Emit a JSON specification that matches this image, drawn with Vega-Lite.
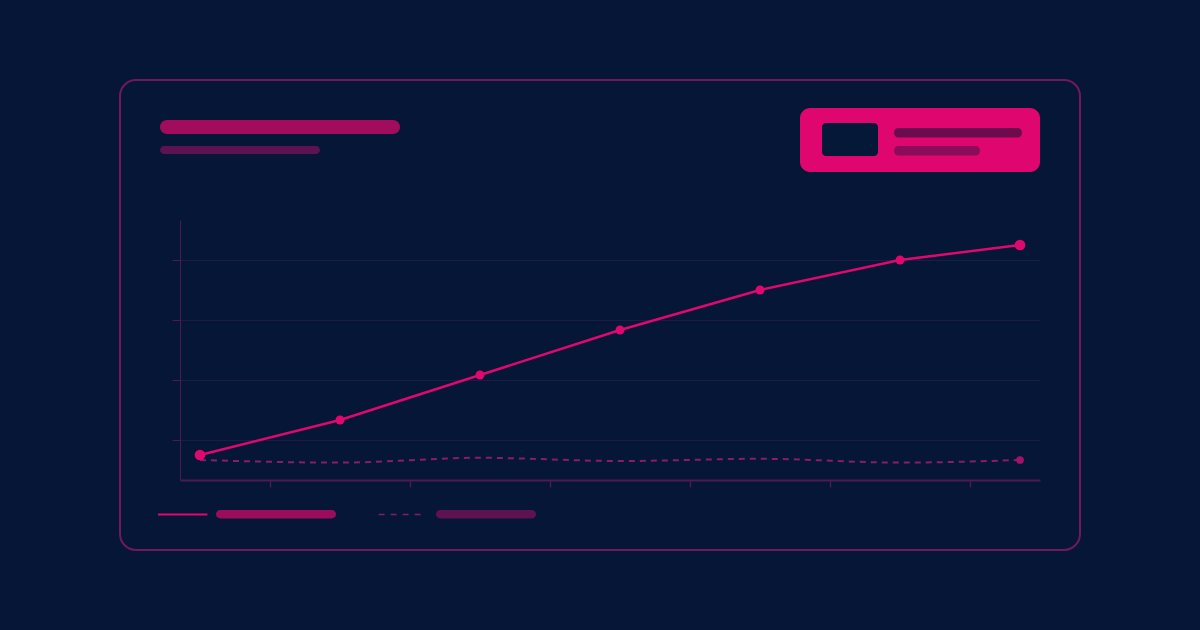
{
  "$schema": "https://vega.github.io/schema/vega-lite/v6.json",
  "autosize": {"type": "none"},
  "width": 860,
  "height": 260,
  "padding": {"left": 180, "top": 220, "right": 160, "bottom": 150},
  "background": "#051637",
  "config": {
    "view": {"stroke": null},
    "axis": {"labels": false, "title": null}
  },
  "datasets": {
    "series": [
      {"step": 1, "actual": 1.25, "baseline": 1.0},
      {"step": 8, "actual": 3.0, "baseline": 0.87},
      {"step": 15, "actual": 5.25, "baseline": 1.11},
      {"step": 22, "actual": 7.5, "baseline": 0.95},
      {"step": 29, "actual": 9.5, "baseline": 1.06},
      {"step": 36, "actual": 11.0, "baseline": 0.87},
      {"step": 42, "actual": 11.75, "baseline": 1.0}
    ],
    "shapes": [
      {"part": "card", "x0": -3, "x1": 45, "y0": 20, "y1": -3.5},
      {"part": "title", "x0": -1, "x1": 11, "y0": 18, "y1": 17.3},
      {"part": "subtitle", "x0": -1, "x1": 7, "y0": 16.7, "y1": 16.3},
      {"part": "badge", "x0": 31, "x1": 43, "y0": 18.6, "y1": 15.4},
      {"part": "badgeInner", "x0": 32.1, "x1": 34.9, "y0": 17.85, "y1": 16.2},
      {"part": "badgeBar1", "x0": 35.7, "x1": 42.1, "y0": 17.6, "y1": 17.12},
      {"part": "badgeBar2", "x0": 35.7, "x1": 40, "y0": 16.7, "y1": 16.23},
      {"part": "legendBar1", "x0": 1.8, "x1": 7.8, "y0": -1.5, "y1": -1.92},
      {"part": "legendBar2", "x0": 12.8, "x1": 17.8, "y0": -1.5, "y1": -1.92},
      {"part": "legendSolid", "x0": -1.1, "x1": 1.37, "y0": -1.72, "y1": -1.72},
      {"part": "legendDashed", "x0": 9.93, "x1": 12.17, "y0": -1.72, "y1": -1.72}
    ]
  },
  "layer": [
    {
      "data": {"name": "shapes"},
      "transform": [{"filter": "datum.part == 'card'"}],
      "mark": {"type": "rect", "filled": false, "color": "#6e1a5c", "strokeWidth": 2, "cornerRadius": 16},
      "encoding": {
        "x": {
          "field": "x0",
          "type": "quantitative",
          "scale": {"domain": [0, 43], "nice": false, "zero": false},
          "axis": {
            "title": null,
            "values": [4.5, 11.5, 18.5, 25.5, 32.5, 39.5],
            "grid": false,
            "domainColor": "#4e1a52",
            "domainWidth": 2,
            "tickColor": "#4e1a52",
            "tickWidth": 1.5,
            "tickSize": 7
          }
        },
        "x2": {"field": "x1"},
        "y": {
          "field": "y0",
          "type": "quantitative",
          "scale": {"domain": [0, 13], "nice": false, "zero": false},
          "axis": {
            "title": null,
            "values": [2, 5, 8, 11],
            "grid": true,
            "gridColor": "#1f1a47",
            "gridWidth": 1,
            "domainColor": "#4e1a52",
            "domainWidth": 1,
            "tickColor": "#4e1a52",
            "tickWidth": 1,
            "tickSize": 8
          }
        },
        "y2": {"field": "y1"}
      }
    },
    {
      "data": {"name": "shapes"},
      "transform": [{"filter": "datum.part == 'title'"}],
      "mark": {"type": "rect", "color": "#a10c5d", "cornerRadius": 7},
      "encoding": {
        "x": {"field": "x0", "type": "quantitative"},
        "x2": {"field": "x1"},
        "y": {"field": "y0", "type": "quantitative"},
        "y2": {"field": "y1"}
      }
    },
    {
      "data": {"name": "shapes"},
      "transform": [{"filter": "datum.part == 'subtitle'"}],
      "mark": {"type": "rect", "color": "#5c1350", "cornerRadius": 4},
      "encoding": {
        "x": {"field": "x0", "type": "quantitative"},
        "x2": {"field": "x1"},
        "y": {"field": "y0", "type": "quantitative"},
        "y2": {"field": "y1"}
      }
    },
    {
      "data": {"name": "shapes"},
      "transform": [{"filter": "datum.part == 'badge'"}],
      "mark": {"type": "rect", "color": "#e0066f", "cornerRadius": 10},
      "encoding": {
        "x": {"field": "x0", "type": "quantitative"},
        "x2": {"field": "x1"},
        "y": {"field": "y0", "type": "quantitative"},
        "y2": {"field": "y1"}
      }
    },
    {
      "data": {"name": "shapes"},
      "transform": [{"filter": "datum.part == 'badgeInner'"}],
      "mark": {"type": "rect", "color": "#061838", "cornerRadius": 4},
      "encoding": {
        "x": {"field": "x0", "type": "quantitative"},
        "x2": {"field": "x1"},
        "y": {"field": "y0", "type": "quantitative"},
        "y2": {"field": "y1"}
      }
    },
    {
      "data": {"name": "shapes"},
      "transform": [{"filter": "indexof(['badgeBar1', 'badgeBar2', 'legendBar1', 'legendBar2'], datum.part) >= 0"}],
      "mark": {"type": "rect", "cornerRadius": 4.5},
      "encoding": {
        "x": {"field": "x0", "type": "quantitative"},
        "x2": {"field": "x1"},
        "y": {"field": "y0", "type": "quantitative"},
        "y2": {"field": "y1"},
        "color": {
          "field": "part",
          "type": "nominal",
          "legend": null,
          "scale": {
            "domain": ["badgeBar1", "badgeBar2", "legendBar1", "legendBar2"],
            "range": ["#6c0c4f", "#8a0c5a", "#9c0c5c", "#5e1350"]
          }
        }
      }
    },
    {
      "data": {"name": "shapes"},
      "transform": [{"filter": "datum.part == 'legendSolid'"}],
      "mark": {"type": "rule", "color": "#e0086e", "strokeWidth": 2},
      "encoding": {
        "x": {"field": "x0", "type": "quantitative"},
        "x2": {"field": "x1"},
        "y": {"field": "y0", "type": "quantitative"}
      }
    },
    {
      "data": {"name": "shapes"},
      "transform": [{"filter": "datum.part == 'legendDashed'"}],
      "mark": {"type": "rule", "color": "#861c68", "strokeWidth": 1.5, "strokeDash": [6, 6]},
      "encoding": {
        "x": {"field": "x0", "type": "quantitative"},
        "x2": {"field": "x1"},
        "y": {"field": "y0", "type": "quantitative"}
      }
    },
    {
      "data": {"name": "series"},
      "mark": {"type": "line", "color": "#8a1c6a", "strokeWidth": 2, "strokeDash": [6, 5], "interpolate": "monotone"},
      "encoding": {
        "x": {"field": "step", "type": "quantitative"},
        "y": {"field": "baseline", "type": "quantitative"}
      }
    },
    {
      "data": {"name": "series"},
      "transform": [{"filter": "datum.step == 42"}],
      "mark": {"type": "circle", "color": "#a3126a", "opacity": 1, "size": 60},
      "encoding": {
        "x": {"field": "step", "type": "quantitative"},
        "y": {"field": "baseline", "type": "quantitative"}
      }
    },
    {
      "data": {"name": "series"},
      "mark": {"type": "line", "color": "#e0086e", "strokeWidth": 2.5},
      "encoding": {
        "x": {"field": "step", "type": "quantitative"},
        "y": {"field": "actual", "type": "quantitative"}
      }
    },
    {
      "data": {"name": "series"},
      "transform": [{"filter": "datum.step != 1 && datum.step != 42"}],
      "mark": {"type": "circle", "color": "#e0086e", "opacity": 1, "size": 80},
      "encoding": {
        "x": {"field": "step", "type": "quantitative"},
        "y": {"field": "actual", "type": "quantitative"}
      }
    },
    {
      "data": {"name": "series"},
      "transform": [{"filter": "datum.step == 1 || datum.step == 42"}],
      "mark": {"type": "circle", "color": "#e0086e", "opacity": 1, "size": 115},
      "encoding": {
        "x": {"field": "step", "type": "quantitative"},
        "y": {"field": "actual", "type": "quantitative"}
      }
    }
  ]
}
